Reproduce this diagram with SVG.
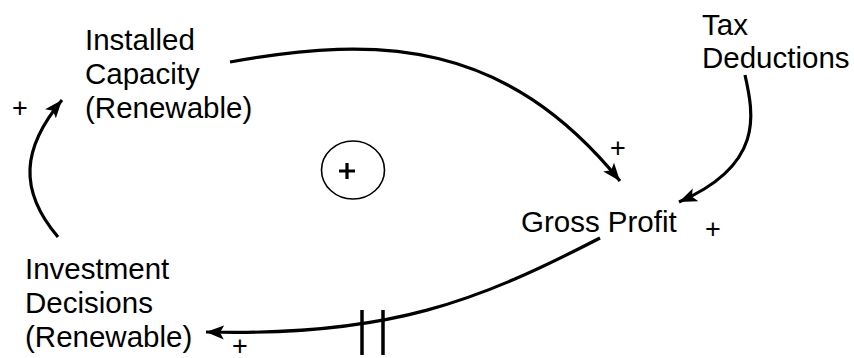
<svg xmlns="http://www.w3.org/2000/svg" width="854" height="358" viewBox="0 0 854 358">
<style>
.lbl{font-family:"Liberation Sans",Arial,sans-serif;font-size:29.5px;fill:#000}
.sgn{font-family:"Liberation Sans",Arial,sans-serif;font-size:27px;fill:#000}
.link{fill:none;stroke:#000;stroke-width:3.2}
</style>
<defs>
<marker id="ah" markerUnits="userSpaceOnUse" markerWidth="20" markerHeight="16" refX="18" refY="8" orient="auto">
<path d="M0,1 L18,8 L0,15 L4,8 Z" fill="#000"/>
</marker>
</defs>
<rect width="854" height="358" fill="#fff"/>
<g id="connectors">
<path class="link" d="M230,62 C380,35 505,40 620,181" marker-end="url(#ah)"/>
<path class="link" d="M745,75 C754,115 764,165 679,202" marker-end="url(#ah)"/>
<path class="link" d="M600,238 C480,300 390,337 206,332" marker-end="url(#ah)"/>
<path class="link" d="M58,237 C18,190 22,148 62,100" marker-end="url(#ah)"/>
<line x1="362" y1="310" x2="362" y2="355" stroke="#000" stroke-width="3.5"/>
<line x1="383" y1="310" x2="383" y2="355" stroke="#000" stroke-width="3.5"/>
</g>
<g id="installed-capacity">
<text class="lbl" x="85" y="50">Installed</text>
<text class="lbl" x="85" y="84">Capacity</text>
<text class="lbl" x="85" y="118">(Renewable)</text>
</g>
<g id="tax-deductions">
<text class="lbl" x="702" y="35">Tax</text>
<text class="lbl" x="702" y="68">Deductions</text>
</g>
<g id="gross-profit">
<text class="lbl" x="521" y="232">Gross Profit</text>
</g>
<g id="investment-decisions">
<text class="lbl" x="25" y="279">Investment</text>
<text class="lbl" x="25" y="313">Decisions</text>
<text class="lbl" x="25" y="347">(Renewable)</text>
</g>
<g id="loop">
<ellipse cx="353" cy="170" rx="31.5" ry="29" fill="none" stroke="#000" stroke-width="1.6"/>
<path d="M347,163 V179 M339,171 H355" stroke="#000" stroke-width="3.2"/>
</g>
<g id="signs">
<text class="sgn" x="20" y="117" text-anchor="middle">+</text>
<text class="sgn" x="618" y="157" text-anchor="middle">+</text>
<text class="sgn" x="713" y="238" text-anchor="middle">+</text>
<text class="sgn" x="240" y="355" text-anchor="middle">+</text>
</g>
</svg>
